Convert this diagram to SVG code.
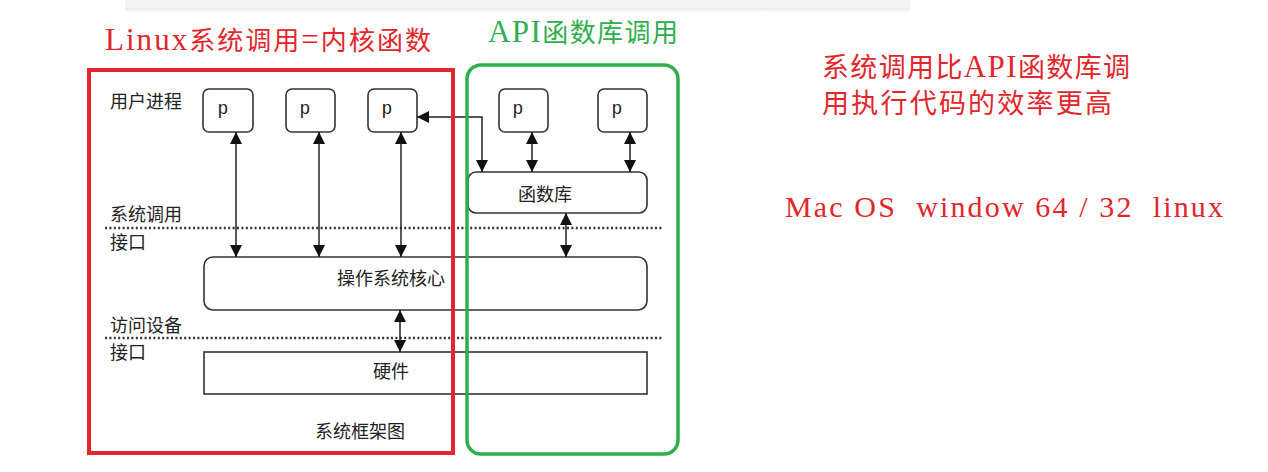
<svg xmlns="http://www.w3.org/2000/svg" width="1268" height="472" viewBox="0 0 1268 472">
<style>
.lbl{font-family:"Noto Sans CJK SC","Noto Sans",sans-serif;font-size:18px;fill:#222}
.box{fill:#fff;stroke:#333;stroke-width:1.6}
.pt{font-family:"Liberation Mono",monospace;font-size:18px;fill:#222;text-anchor:middle}
.con{fill:none;stroke:#222;stroke-width:1.5}
.dot{fill:none;stroke:#333;stroke-width:2.6;stroke-dasharray:2 2.4}
.red{font-family:"Liberation Serif","Noto Sans CJK SC",serif;fill:#e3262b}
.grn{font-family:"Liberation Serif","Noto Sans CJK SC",serif;fill:#2fae4e}
.lat{font-size:31px}
</style>
<defs>
<marker id="ah" viewBox="0 0 12 12" refX="12" refY="6" markerWidth="12" markerHeight="12" markerUnits="userSpaceOnUse" orient="auto-start-reverse">
<path d="M0,0 L12,6 L0,12 z" fill="#111"/>
</marker>
<linearGradient id="sh" x1="0" y1="0" x2="0" y2="1">
<stop offset="0" stop-color="#ececec"/>
<stop offset="1" stop-color="#ffffff"/>
</linearGradient>
</defs>
<rect width="1268" height="472" fill="#fff"/>
<rect x="125" y="0" width="785" height="8" fill="#f3f3f3"/>
<rect x="125" y="8" width="785" height="5" fill="url(#sh)"/>

<text class="red" x="105" y="50" font-size="26" textLength="326" lengthAdjust="spacing"><tspan class="lat">Linux</tspan>系统调用<tspan class="lat">=</tspan>内核函数</text>
<text class="grn" x="488" y="42" font-size="26" textLength="190" lengthAdjust="spacing"><tspan class="lat">API</tspan>函数库调用</text>
<text class="red" x="822" y="77" font-size="27" textLength="308" lengthAdjust="spacing">系统调用比<tspan class="lat">API</tspan>函数库调</text>
<text class="red" x="822" y="113" font-size="27" textLength="290" lengthAdjust="spacing">用执行代码的效率更高</text>
<text class="red" x="785" y="217" font-size="30" textLength="438" lengthAdjust="spacing" xml:space="preserve">Mac OS  window 64 / 32  linux</text>

<g id="labels">
<text class="lbl" x="110" y="108">用户进程</text>
<text class="lbl" x="110" y="221">系统调用</text>
<text class="lbl" x="110" y="249">接口</text>
<text class="lbl" x="110" y="332">访问设备</text>
<text class="lbl" x="110" y="359">接口</text>
<text class="lbl" x="315" y="438">系统框架图</text>
</g>
<g id="dividers">
<line class="dot" x1="105" y1="228" x2="662" y2="228"/>
<line class="dot" x1="105" y1="338" x2="662" y2="338"/>
</g>

<g id="p1"><rect class="box" x="203" y="89" width="50" height="43" rx="6"/><text class="pt" x="223" y="114">p</text></g>
<g id="p2"><rect class="box" x="286" y="89" width="49" height="43" rx="6"/><text class="pt" x="305" y="114">p</text></g>
<g id="p3"><rect class="box" x="368" y="89" width="49" height="43" rx="6"/><text class="pt" x="387" y="114">p</text></g>
<g id="p4"><rect class="box" x="499" y="89" width="49" height="43" rx="6"/><text class="pt" x="518" y="114">p</text></g>
<g id="p5"><rect class="box" x="598" y="89" width="49" height="43" rx="6"/><text class="pt" x="617" y="114">p</text></g>
<g id="lib"><rect class="box" x="468" y="172" width="179" height="41" rx="8"/><text class="lbl" x="518" y="201" font-size="19">函数库</text></g>
<g id="kernel"><rect class="box" x="204" y="257" width="443" height="53" rx="9"/><text class="lbl" x="337" y="285">操作系统核心</text></g>
<g id="hw"><rect class="box" x="204" y="352" width="443" height="42"/><text class="lbl" x="373" y="378">硬件</text></g>

<g id="connectors">
<line class="con" x1="236" y1="132" x2="236" y2="257" marker-start="url(#ah)" marker-end="url(#ah)"/>
<line class="con" x1="319" y1="132" x2="319" y2="257" marker-start="url(#ah)" marker-end="url(#ah)"/>
<line class="con" x1="401" y1="132" x2="401" y2="257" marker-start="url(#ah)" marker-end="url(#ah)"/>
<path class="con" d="M417,117 H482 V172" marker-start="url(#ah)" marker-end="url(#ah)"/>
<line class="con" x1="532" y1="132" x2="532" y2="172" marker-start="url(#ah)" marker-end="url(#ah)"/>
<line class="con" x1="630" y1="132" x2="630" y2="172" marker-start="url(#ah)" marker-end="url(#ah)"/>
<line class="con" x1="566" y1="213" x2="566" y2="257" marker-start="url(#ah)" marker-end="url(#ah)"/>
<line class="con" x1="400" y1="310" x2="400" y2="352" marker-start="url(#ah)" marker-end="url(#ah)"/>
</g>

<g id="frames">
<rect x="89" y="70" width="364" height="383" fill="none" stroke="#e3262b" stroke-width="4"/>
<rect x="467" y="65" width="211" height="389" rx="14" fill="none" stroke="#2fae4e" stroke-width="3.5"/>
</g>
</svg>
